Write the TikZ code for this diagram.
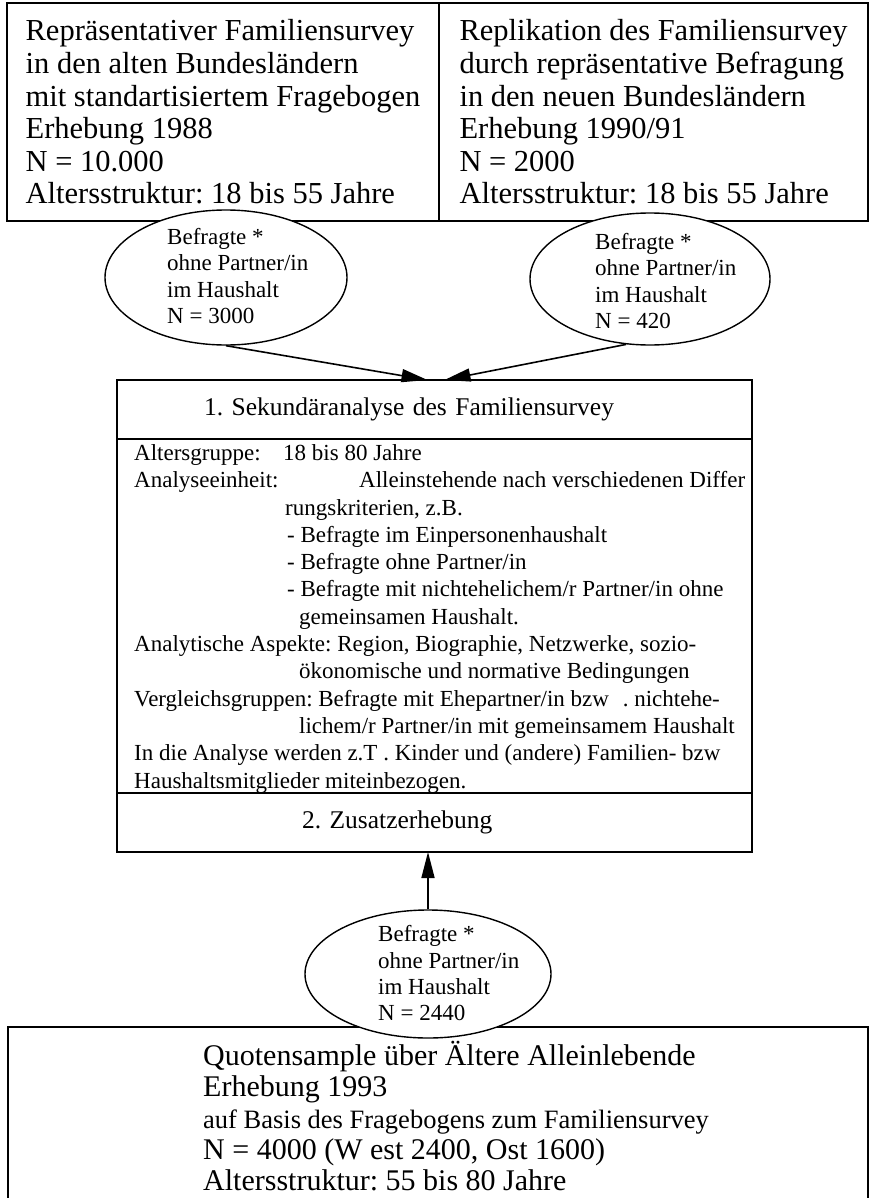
\documentclass[tikz,border=0pt]{standalone}
\usepackage{fontspec}
\setmainfont{Liberation Serif}
\usetikzlibrary{arrows.meta,positioning,shapes.geometric}

\tikzset{
  frame/.style={draw, rectangle, line width=1.8pt, inner sep=0pt, outer sep=0pt},
  oval/.style={ellipse, draw, line width=1.4pt, fill=white, inner sep=0pt},
  bigtext/.style={font=\fontsize{30.5}{32.6}\selectfont, align=left, inner sep=0pt},
  smalltext/.style={font=\fontsize{23}{26.3}\selectfont, align=left, inner sep=0pt},
  headtext/.style={font=\fontsize{25.5}{30}\selectfont, align=left},
  flow/.style={line width=1.6pt, -{Triangle[length=26pt,width=13pt]}},
}

\begin{document}
\frenchspacing
\begin{tikzpicture}[x=1pt,y=-1pt]
  \useasboundingbox (0,0) rectangle (871,1198);
  \clip (0,0) rectangle (871,1198);
  % the two surveys
  \node[frame, bigtext, anchor=north west, minimum width=432pt, minimum height=218pt] (west) at (7,3)
    {Repräsentativer Familiensurvey\\
     in den alten Bundesländern\\
     mit standartisiertem Fragebogen\\
     Erhebung 1988\\
     N = 10.000\\
     Altersstruktur: 18 bis 55 Jahre};
  \node[frame, bigtext, anchor=north west, minimum width=429pt, minimum height=218pt] (east) at (439,3)
    {Replikation des Familiensurvey\\
     durch repräsentative Befragung\\
     in den neuen Bundesländern\\
     Erhebung 1990/91\\
     N = 2000\\
     Altersstruktur: 18 bis 55 Jahre};
  % selected respondents
  \node[oval, minimum width=242pt, minimum height=135pt] (askW) at (226,277.5) {};
  \node[smalltext, anchor=north west] (askWtxt) at (167,228.3)
    {Befragte *\\ohne Partner/in\\im Haushalt\\N = 3000};
  \node[oval, minimum width=240pt, minimum height=132pt] (askE) at (650,279) {};
  \node[smalltext, anchor=north west] (askEtxt) at (595,233.3)
    {Befragte *\\ohne Partner/in\\im Haushalt\\N = 420};
  % secondary analysis
  \node[frame, headtext, minimum width=635pt, minimum height=59pt,
        text width=461pt, inner xsep=87pt] (sek) at (434.5,409.5)
    {1. Sekundäranalyse des Familiensurvey};
  \node[frame, minimum width=635pt, minimum height=354pt, below=0pt of sek] (sekbody) {};
  \node[frame, headtext, minimum width=635pt, minimum height=59pt,
        text width=265pt, inner xsep=185pt, below=0pt of sekbody] (zusatz)
    {2. Zusatzerhebung};
  \node[smalltext, font=\fontsize{23}{27.3}\selectfont, anchor=north west] (sekitems) at (134,444.3)
    {\makebox[149pt][l]{Altersgruppe:}18 bis 80 Jahre\\
     \makebox[225pt][l]{Analyseeinheit:}Alleinstehende nach verschiedenen Differ\\
     \hspace*{151pt}rungskriterien, z.B.\\
     \hspace*{153pt}- Befragte im Einpersonenhaushalt\\
     \hspace*{153pt}- Befragte ohne Partner/in\\
     \hspace*{153pt}- Befragte mit nichtehelichem/r Partner/in ohne\\
     \hspace*{165pt}gemeinsamen Haushalt.\\
     Analytische Aspekte: Region, Biographie, Netzwerke, sozio-\\
     \hspace*{165pt}ökonomische und normative Bedingungen\\
     Vergleichsgruppen: Befragte mit Ehepartner/in bzw\hspace{0.6em}. nichtehe-\\
     \hspace*{165pt}lichem/r Partner/in mit gemeinsamem Haushalt\\
     In die Analyse werden z.T . Kinder und (andere) Familien- bzw\\
     Haushaltsmitglieder miteinbezogen.};
  \draw[flow] (askW.south) -- ([xshift=-7pt]sek.north);
  \draw[flow] (askE.250) -- ([xshift=10pt]sek.north);
  % quota sample of older people living alone
  \node[frame, anchor=north west, minimum width=860pt, minimum height=200pt] (quoten) at (8,1027) {};
  \node[oval, minimum width=246pt, minimum height=128pt] (askS) at (428,974) {};
  \node[smalltext, anchor=north west] (askStxt) at (378,925.3)
    {Befragte *\\ohne Partner/in\\im Haushalt\\N = 2440};
  \node[bigtext, font=\fontsize{30}{31.3}\selectfont, anchor=north west] (quotentxt) at (203,1041)
    {Quotensample über Ältere Alleinlebende\\
     Erhebung 1993\\
     {\fontsize{26.5}{31.3}\selectfont auf Basis des Fragebogens zum Familiensurvey}\\
     N = 4000 (W est 2400, Ost 1600)\\
     Altersstruktur: 55 bis 80 Jahre};
  \draw[flow] (askS.north) -- (askS.north |- zusatz.south);
\end{tikzpicture}
\end{document}
